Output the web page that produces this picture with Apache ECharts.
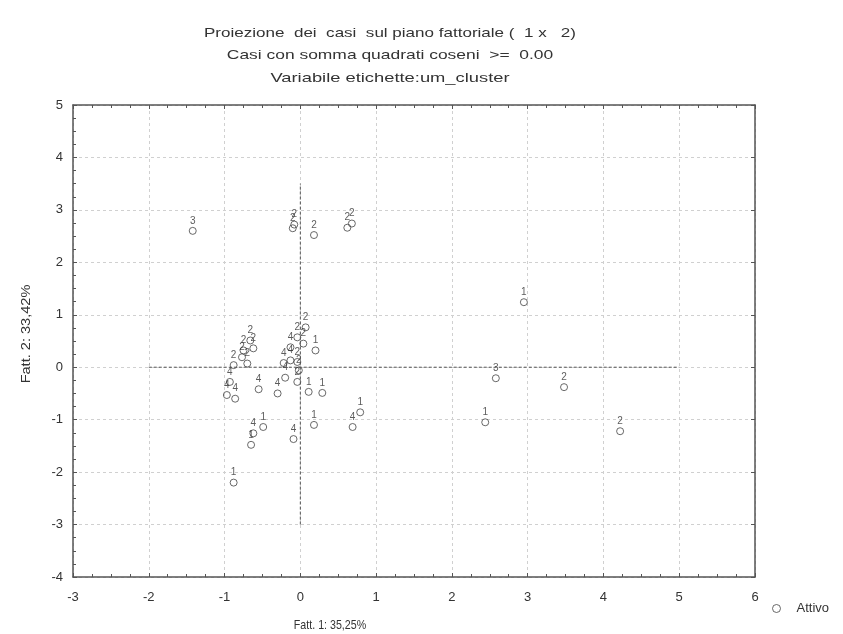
<!DOCTYPE html>
<html>
<head>
<meta charset="utf-8">
<script src="https://cdn.jsdelivr.net/npm/echarts@6/dist/echarts.min.js"></script>
<style>html,body{margin:0;padding:0;background:#fff;}#c{width:843px;height:634px;}</style>
</head>
<body>
<div id="c"></div>
<script>
var titleLines = ["Proiezione  dei  casi  sul piano fattoriale (  1 x   2)", "Casi con somma quadrati coseni  >=  0.00", "Variabile etichette:um_cluster"];
var xAxisName = "Fatt. 1: 35,25%";
var yAxisName = "Fatt. 2: 33,42%";
var seriesName = "Attivo";
var xTicks = [-3, 6, 1];
var yTicks = [-4, 5, 1];
var pointX = [-1.42, -0.10, -0.08, 0.18, 0.62, 0.68, 2.95, 2.58, 3.48, 2.44, 4.22, -0.88, -0.65, -0.62, -0.49, -0.09, 0.18, 0.69, 0.79, 0.11, 0.29, -0.04, -0.30, -0.20, -0.55, -0.97, -0.86, -0.93, -0.70, -0.77, -0.62, -0.66, -0.75, -0.88, -0.04, -0.13, 0.04, -0.04, 0.07, -0.13, 0.20, -0.02, -0.22];
var pointY = [2.60, 2.65, 2.72, 2.52, 2.66, 2.74, 1.24, -0.21, -0.38, -1.05, -1.22, -2.20, -1.48, -1.26, -1.14, -1.37, -1.10, -1.14, -0.86, -0.47, -0.49, -0.28, -0.50, -0.20, -0.42, -0.53, -0.60, -0.28, 0.07, 0.19, 0.36, 0.51, 0.32, 0.04, 0.10, 0.13, 0.45, 0.57, 0.76, 0.38, 0.32, -0.06, 0.08];
var pointLabel = ["3", "2", "2", "2", "2", "2", "1", "3", "2", "1", "2", "1", "1", "4", "1", "4", "1", "4", "1", "1", "1", "2", "4", "4", "4", "4", "4", "4", "2", "2", "2", "2", "2", "2", "2", "4", "2", "2", "2", "4", "1", "2", "4"];
var vLine = [[0, -3], [0, 3.5]];
var hLine = [[-2, 0], [5, 0]];

var pts = pointX.map(function (x, i) { return { value: [x, pointY[i]], label: { formatter: pointLabel[i] } }; });
var font = "Liberation Sans, Arial, sans-serif";
var frame = { show: true, onZero: false, lineStyle: { color: '#555', width: 1.5 } };
function axisBase(min, max, step) {
  return {
    min: min, max: max, interval: step,
    axisLine: frame,
    axisTick: { show: true, inside: true, length: 4, lineStyle: { color: '#555' } },
    minorTick: { show: true, splitNumber: 4, length: 3, lineStyle: { color: '#555' } },
    splitLine: { show: false }
  };
}
var xBottom = axisBase(xTicks[0], xTicks[1], xTicks[2]);
xBottom.position = 'bottom';
xBottom.axisLabel = { color: '#333', fontSize: 13, fontFamily: font, margin: 14 };
xBottom.splitLine = { show: true, lineStyle: { color: '#d0d0d0', type: [3, 3] } };
var xTop = axisBase(xTicks[0], xTicks[1], xTicks[2]);
xTop.position = 'top';
xTop.axisLabel = { show: false };
var yLeft = axisBase(yTicks[0], yTicks[1], yTicks[2]);
yLeft.position = 'left';
yLeft.axisLabel = { color: '#333', fontSize: 13, fontFamily: font, margin: 10 };
yLeft.splitLine = { show: true, lineStyle: { color: '#d0d0d0', type: [3, 3] } };
var yRight = axisBase(yTicks[0], yTicks[1], yTicks[2]);
yRight.position = 'right';
yRight.axisLabel = { show: false };
yRight.minorTick = { show: false };

function titleText(txt, y, sx) {
  return { type: 'text', x: 390, y: y, scaleX: sx, style: { text: txt, x: 0, y: 0, align: 'center', verticalAlign: 'middle', fill: '#333', font: '13px ' + font } };
}

var chart = echarts.init(document.getElementById('c'), null, { renderer: 'canvas' });
chart.setOption({
  backgroundColor: '#fff',
  animation: false,
  grid: { left: 73, right: 88, top: 105, bottom: 57 },
  xAxis: [xBottom, xTop],
  yAxis: [yLeft, yRight],
  legend: {
    left: 767, top: 597, itemWidth: 8, itemHeight: 8, itemGap: 4,
    textStyle: { color: '#333', fontSize: 13, fontFamily: font, padding: [0, 0, 0, 11] },
    data: [{ name: seriesName, icon: 'circle', itemStyle: { color: '#fff', borderColor: '#444', borderWidth: 1 } }]
  },
  graphic: [
    titleText(titleLines[0], 33, 1.31),
    titleText(titleLines[1], 55, 1.34),
    titleText(titleLines[2], 78, 1.41),
    { type: 'text', x: 330, y: 625, scaleX: 0.82, style: { text: xAxisName, x: 0, y: 0, align: 'center', verticalAlign: 'middle', fill: '#333', font: '13px ' + font } },
    { type: 'text', x: 26, y: 334, rotation: Math.PI / 2, scaleX: 1.12, style: { text: yAxisName, x: 0, y: 0, align: 'center', verticalAlign: 'middle', fill: '#333', font: '13px ' + font } }
  ],
  series: [
    {
      type: 'line', data: vLine, xAxisIndex: 0, yAxisIndex: 0, symbol: 'none', silent: true,
      lineStyle: { color: '#555', width: 1, type: [3, 2] }
    },
    {
      type: 'line', data: hLine, xAxisIndex: 0, yAxisIndex: 0, symbol: 'none', silent: true,
      lineStyle: { color: '#555', width: 1, type: [3, 2] }
    },
    {
      name: seriesName, type: 'scatter', data: pts, xAxisIndex: 0, yAxisIndex: 0,
      symbol: 'circle', symbolSize: 7,
      itemStyle: { color: 'rgba(255,255,255,0)', borderColor: '#444', borderWidth: 1 },
      label: { show: true, position: 'top', distance: 1, color: '#333', fontSize: 10, fontFamily: font }
    }
  ]
});
</script>
</body>
</html>
